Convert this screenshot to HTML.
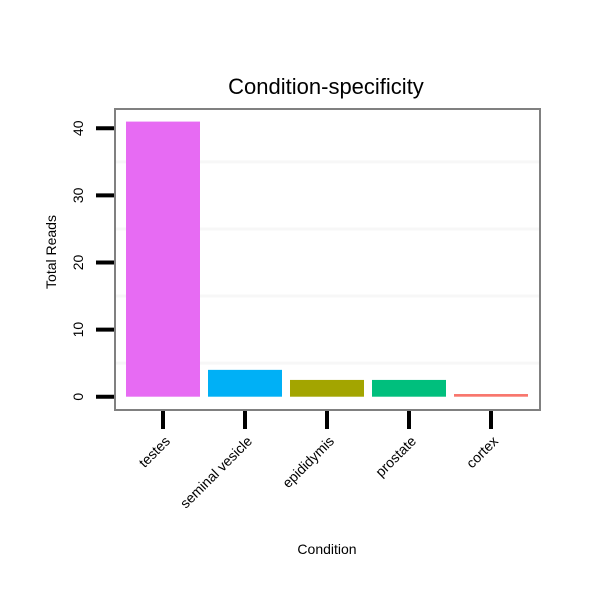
<!DOCTYPE html>
<html><head><meta charset="utf-8"><style>body{margin:0;background:#fff}svg{display:block;font-family:"Liberation Sans",sans-serif}</style></head>
<body>
<svg id="chart" width="600" height="600">
<rect x="0" y="0" width="600" height="600" fill="#fff"/>
<text x="326" y="94" font-size="22" text-anchor="middle">Condition-specificity</text>
<text transform="translate(56,252) rotate(-90)" font-size="14" text-anchor="middle">Total Reads</text>
<text x="327" y="554" font-size="14" text-anchor="middle">Condition</text>
<g id="grid"></g><g id="bars"></g><g id="axes"></g>
<rect x="115" y="109" width="425" height="301" fill="none" stroke="#808080" stroke-width="2"/>
</svg>
<script>
const categories = ["testes","seminal vesicle","epididymis","prostate","cortex"];
const values = [41, 4, 2.5, 2.5, 0.4];
const colors = ["#E76BF3","#00B0F6","#A3A500","#00BF7D","#F8766D"];
const yTicks = [0,10,20,30,40];
const yMinor = [5,15,25,35];
const NS="http://www.w3.org/2000/svg";
const y = v => 396.7 - v*6.71;
const x = i => 163 + i*82;
const bw = 74;
function mk(tag, attrs, parent){const e=document.createElementNS(NS,tag);for(const k in attrs)e.setAttribute(k,attrs[k]);document.getElementById(parent).appendChild(e);return e;}
yMinor.forEach(v=>{
  const l=mk("line",{x1:116,x2:539,y1:y(v),y2:y(v),stroke:"#f7f7f7","stroke-width":3},"grid");
  
  
});
categories.forEach((c,i)=>{
  const r=mk("rect",{x:x(i)-bw/2,y:y(values[i]),width:bw,height:y(0)-y(values[i]),fill:colors[i]},"bars");
  
  
  const t=mk("line",{x1:x(i),x2:x(i),y1:411,y2:429,stroke:"#000","stroke-width":4},"axes");
  
  
  const lb=mk("text",{transform:`translate(${x(i)+8},442) rotate(-45)`,"font-size":14,"text-anchor":"end"},"axes");
  lb.textContent=c;
  
  
});
yTicks.forEach(v=>{
  const t=mk("line",{x1:96,x2:114,y1:y(v),y2:y(v),stroke:"#000","stroke-width":4},"axes");
  
  
  const lb=mk("text",{transform:`translate(83,${y(v)}) rotate(-90)`,"font-size":14,"text-anchor":"middle"},"axes");
  lb.textContent=v;
  
  
});
</script>
</body></html>
